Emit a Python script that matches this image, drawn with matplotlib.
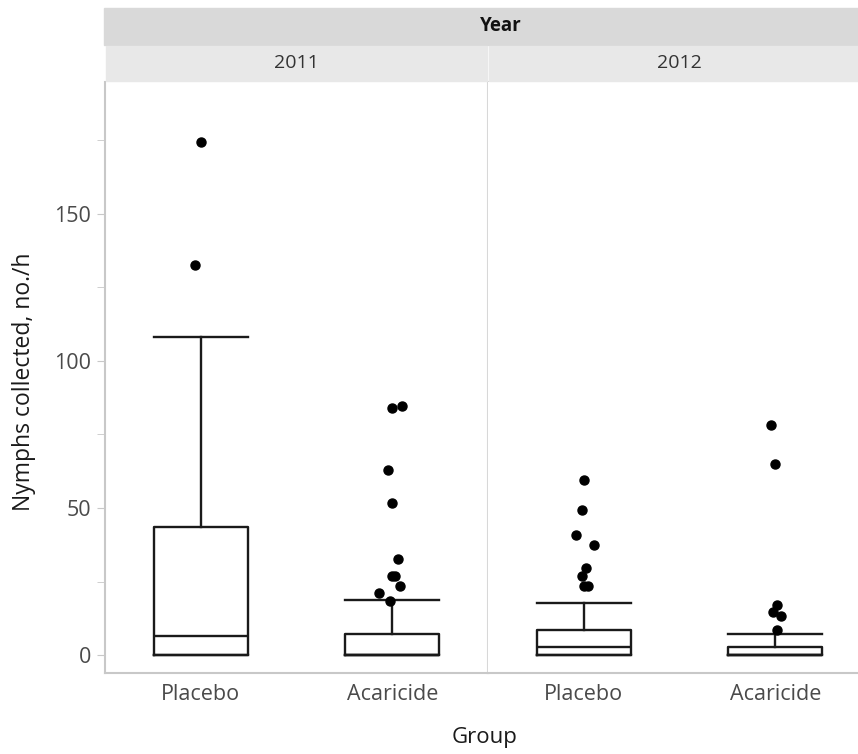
import matplotlib
matplotlib.use('Agg')
import matplotlib.pyplot as plt
from matplotlib.patches import Rectangle

plt.rcParams['font.family'] = ['Open Sans', 'DejaVu Sans']

years = ['2011', '2012']
groups = ['Placebo', 'Acaricide']

# box stats per year: [Placebo, Acaricide]
q1 = {'2011': [0, 0], '2012': [0, 0]}
med = {'2011': [6.5, 0], '2012': [2.9, 0]}
q3 = {'2011': [43.5, 7.1], '2012': [8.6, 2.9]}
whislo = {'2011': [0, 0], '2012': [0, 0]}
whishi = {'2011': [108, 18.7], '2012': [17.9, 7.2]}

# outliers (values) and their horizontal jitter
out_2011_placebo = [174.4, 132.4]
jit_2011_placebo = [0.0, -0.03]
out_2011_acaricide = [84.0, 84.8, 63.1, 51.8, 32.8, 26.9, 26.9, 23.5, 21.1, 18.5]
jit_2011_acaricide = [-0.003, 0.052, -0.021, 0.0, 0.031, -0.002, 0.012, 0.041, -0.071, -0.01]
out_2012_placebo = [59.7, 49.3, 40.7, 37.4, 29.6, 27.0, 23.7, 23.7]
jit_2012_placebo = [0.0, -0.009, -0.041, 0.051, 0.013, -0.009, 0.0, 0.023]
out_2012_acaricide = [78.1, 65.0, 17.1, 14.7, 13.3, 8.6]
jit_2012_acaricide = [-0.022, 0.0, 0.009, -0.013, 0.032, 0.008]

outliers = {'2011': [(out_2011_placebo, jit_2011_placebo), (out_2011_acaricide, jit_2011_acaricide)],
            '2012': [(out_2012_placebo, jit_2012_placebo), (out_2012_acaricide, jit_2012_acaricide)]}

W, H = 858, 754
fig = plt.figure(figsize=(W / 100, H / 100), dpi=100)

def fx(px):
    return px / W

def fy(px):
    return 1 - px / H

top, bot = 82, 673
lefts = [105, 488]
pw = 383
grid = '#c8c8c8'
tcol = '#4a4a4a'

axes = []
for i, yr in enumerate(years):
    ax = fig.add_axes([fx(lefts[i]), fy(bot), fx(pw), fy(top) - fy(bot)])
    axes.append(ax)
    stats = []
    for j, g in enumerate(groups):
        stats.append(dict(med=med[yr][j], q1=q1[yr][j], q3=q3[yr][j],
                          whislo=whislo[yr][j], whishi=whishi[yr][j], fliers=[]))
    lp = dict(color='#1a1a1a', linewidth=1.7)
    ax.bxp(stats, positions=[1, 2], widths=0.49, showfliers=False,
           boxprops=lp, medianprops=lp, whiskerprops=lp, capprops=lp,
           capwidths=0.49, manage_ticks=False)
    for j in range(2):
        vals, jit = outliers[yr][j]
        ax.plot([j + 1 + d for d in jit], vals, 'o', color='black',
                markersize=6.5, linestyle='none')
    ax.set_xlim(0.5, 2.5)
    ax.set_ylim(-6, 194.7)
    ax.set_xticks([1, 2])
    ax.set_xticklabels(groups, fontsize=15.5, color=tcol)
    ax.tick_params(axis='x', length=0, pad=8)
    for s in ['top', 'right']:
        ax.spines[s].set_visible(False)
    ax.spines['bottom'].set_color(grid)
    ax.spines['bottom'].set_linewidth(1.5)
    if i == 0:
        ax.set_yticks([0, 50, 100, 150])
        ax.set_yticks([25, 75, 125, 175], minor=True)
        ax.tick_params(axis='y', which='both', length=6, color=grid,
                       labelsize=15.5, labelcolor=tcol, pad=4)
        ax.spines['left'].set_color(grid)
        ax.spines['left'].set_linewidth(1.5)
        ax.spines['right'].set_visible(True)
        ax.spines['right'].set_color('#d8d8d8')
        ax.spines['right'].set_linewidth(1.5)
    else:
        ax.set_yticks([])
        ax.spines['left'].set_visible(False)

# header strips
fig.patches.append(Rectangle((fx(104), fy(45)), 1, fy(8) - fy(45),
                             transform=fig.transFigure, color='#d9d9d9', zorder=0))
fig.text(fx(501), fy(26), 'Year', ha='center', va='center',
         fontsize=13.5, fontweight='bold', color='#111111')
for i, yr in enumerate(years):
    fig.patches.append(Rectangle((fx(lefts[i] + 1), fy(81)), fx(pw - 2), fy(46) - fy(81),
                                 transform=fig.transFigure, color='#e8e8e8', zorder=0))
    fig.text(fx(lefts[i] + pw / 2), fy(63), yr, ha='center', va='center',
             fontsize=14, color='#333333')

fig.text(fx(24), fy(382), 'Nymphs collected, no./h', rotation=90,
         ha='center', va='center', fontsize=16.5, color='#1a1a1a')
fig.text(fx(485), fy(738), 'Group', ha='center', va='center',
         fontsize=16, color='#1a1a1a')

fig.savefig('out.png', dpi=100)
